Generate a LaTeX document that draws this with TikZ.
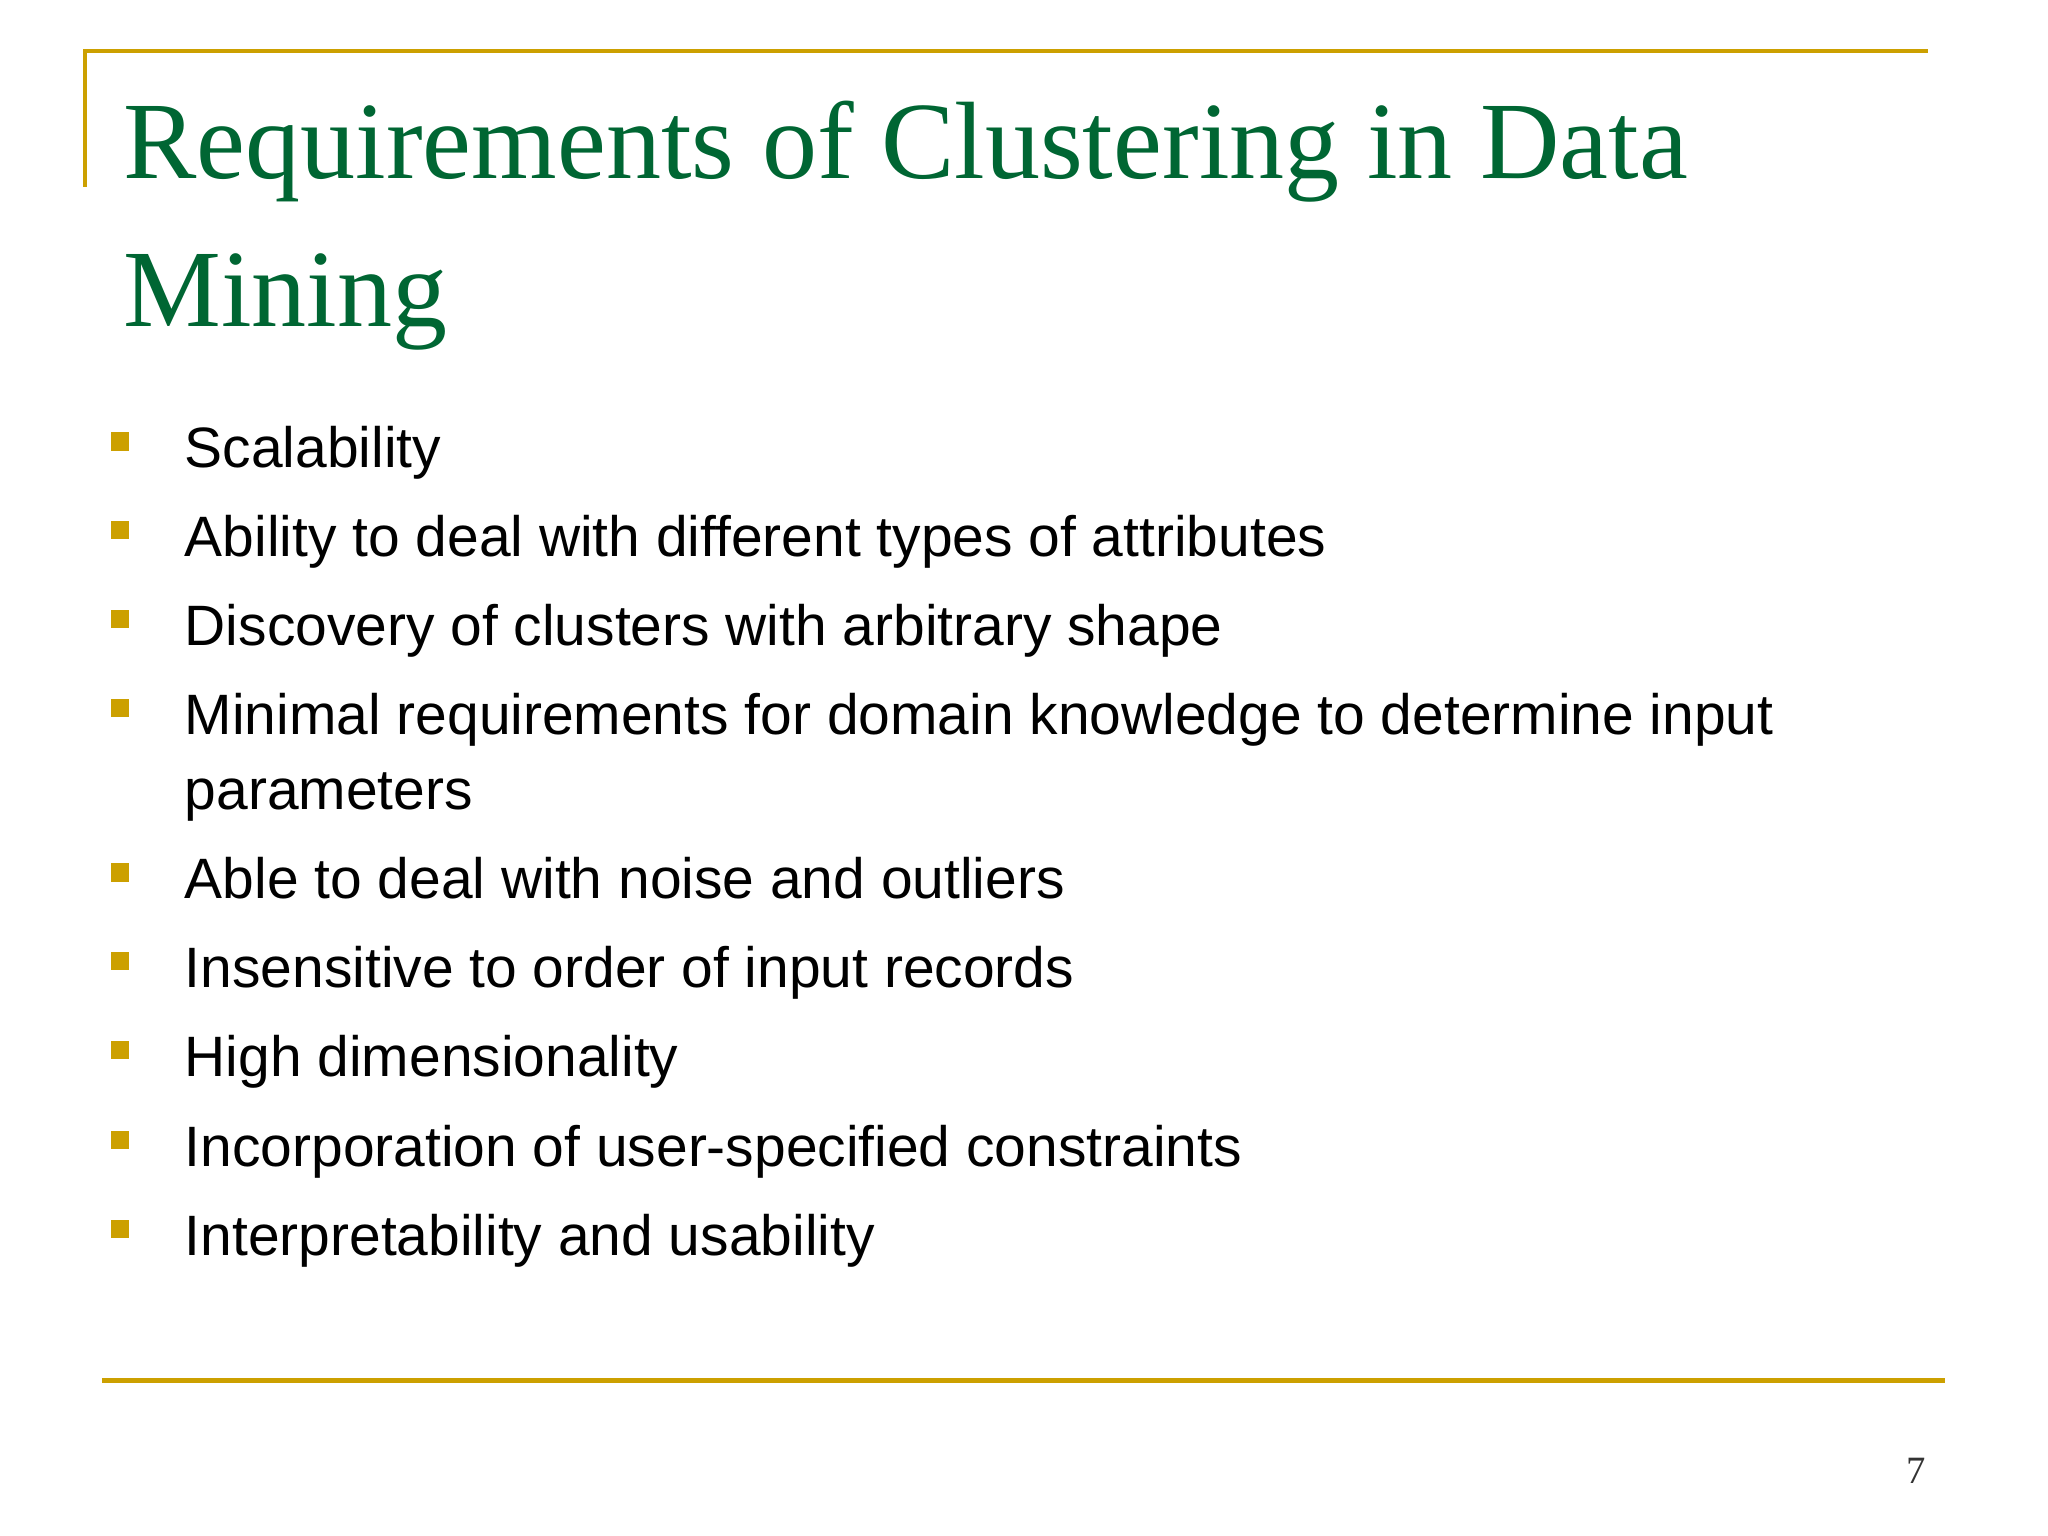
\documentclass[tikz,border=0pt]{standalone}
\usepackage{fontspec}
\setmainfont{Liberation Sans}
\newfontfamily\titlefont{Liberation Serif}
\definecolor{gold}{RGB}{204,160,0}
\definecolor{tgreen}{RGB}{0,102,51}
\begin{document}
\begin{tikzpicture}[x=0.01306cm,y=-0.01306cm,
  item/.style={anchor=base west,inner sep=0,font=\fontsize{16.2}{20}\selectfont},
  bul/.style={fill=gold,draw=none}]
\useasboundingbox (0,0) rectangle (1568,1176);
\fill[white] (0,0) rectangle (1568,1176);
\draw[gold,line width=1.2pt] (65,143) -- (65,39) -- (1476,39);
\draw[gold,line width=1.2pt] (78,1057) -- (1489,1057);
\node[anchor=base west,inner sep=0,text=tgreen,font=\titlefont\fontsize{31.3}{40}\selectfont] (t1) at (94,137) {Requirements of Clustering in Data};
\node[anchor=base west,inner sep=0,text=tgreen,font=\titlefont\fontsize{31.3}{40}\selectfont] (t2) at (94,250) {Mining};
\foreach \y/\t [count=\i] in {358/Scalability,426/Ability to deal with different types of attributes,494/Discovery of clusters with arbitrary shape,562/Minimal requirements for domain knowledge to determine input,688/Able to deal with noise and outliers,756/Insensitive to order of input records,824/High dimensionality,893/Incorporation of user-specified constraints,961/Interpretability and usability}{
  \node[item] (i\i) at (141,\y) {\t};
  \fill[bul] (85,\y-27) rectangle (99,\y-13);
}
\node[item] (i4b) at (141,620) {parameters};
\node[anchor=base,inner sep=0,font=\titlefont\fontsize{11}{13}\selectfont,text=black!80] (pg) at (1467,1136) {7};
\end{tikzpicture}
\end{document}
